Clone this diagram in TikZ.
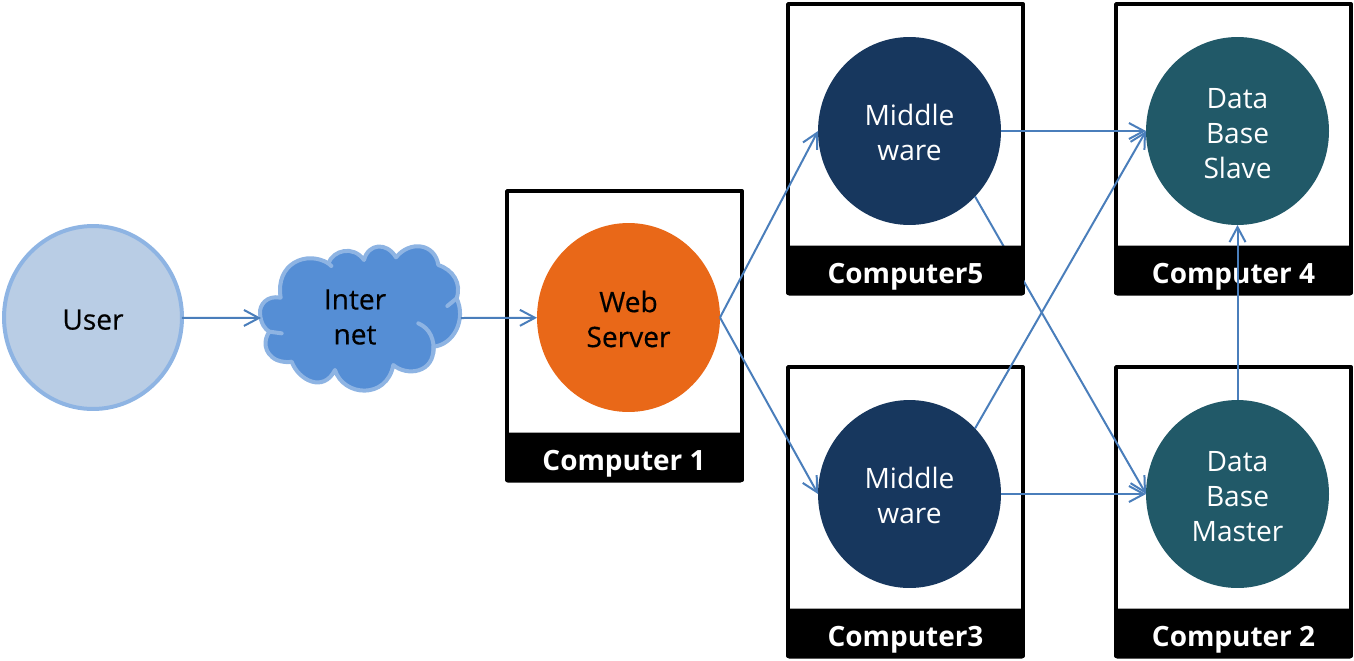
\documentclass[tikz,border=0pt]{standalone}
\usepackage{fontspec}
\setmainfont{Open Sans}
\newfontfamily\darkfont[FakeBold=0.4]{Open Sans}
\usetikzlibrary{shapes.geometric,arrows.meta}
\definecolor{linkblue}{HTML}{4A7EBB}
\definecolor{userfill}{HTML}{B9CDE5}
\definecolor{softedge}{HTML}{8EB4E3}
\definecolor{cloudfill}{HTML}{558ED5}
\definecolor{weborange}{HTML}{E96818}
\definecolor{midnavy}{HTML}{17375E}
\definecolor{dbteal}{HTML}{215968}
\newcommand\dropline{\rule{0pt}{13.9pt}}
\tikzset{
  frame/.style={draw=black,fill=white,line width=0.08cm,line join=round,minimum width=4.7cm,minimum height=5.78cm,inner sep=0,outer sep=0},
  disc/.style={ellipse,inner sep=0,outer sep=0,align=center,font=\fontsize{16}{19.9}\selectfont},
  userdisc/.style={disc,draw=softedge,fill=userfill,line width=0.08cm,minimum width=3.56cm,minimum height=3.66cm,font=\fontsize{16}{19.9}\selectfont\darkfont},
  webdisc/.style={disc,fill=weborange,minimum width=3.66cm,minimum height=3.78cm,font=\fontsize{16}{19.9}\selectfont\darkfont},
  middisc/.style={disc,fill=midnavy,text=white,minimum width=3.66cm,minimum height=3.76cm},
  dbdisc/.style={disc,fill=dbteal,text=white,minimum width=3.66cm,minimum height=3.76cm},
  bar/.style={fill=black,text=white,rounded corners=0.04cm,minimum width=4.74cm,minimum height=1cm,inner sep=0,outer sep=0,text height=0.62cm,text depth=0.1cm,font=\fontsize{15.9}{19.9}\selectfont\bfseries},
  link/.style={draw=linkblue,line width=0.04cm,-{Straight Barb[length=0.3cm,width=0.32cm]}},
  cloudarea/.style={inner sep=0,outer sep=0,minimum width=4cm,minimum height=2.8cm},
  cloudtext/.style={inner sep=0,align=center,font=\fontsize{16}{19.9}\selectfont\darkfont}
}
\begin{document}
\begin{tikzpicture}[x=0.02cm,y=-0.02cm]
\useasboundingbox (0,0) rectangle (1354,660);
% frames
\node[frame] (f1) at (624.5,335.5) {};
\node[frame] (f5) at (905.5,148.5) {};
\node[frame] (f4) at (1233.5,148.5) {};
\node[frame] (f3) at (905.5,511.5) {};
\node[frame] (f2) at (1233.5,511.5) {};
% discs
\node[userdisc] (user) at (93,317.5) {\dropline User};
\node[webdisc] (web) at (628.5,317.5) {\dropline Web\\Server};
\node[middisc] (mid5) at (909.5,131) {\dropline Middle\\ware};
\node[middisc] (mid3) at (909.5,494) {\dropline Middle\\ware};
\node[dbdisc] (db4) at (1237.5,131) {\dropline Data\\Base\\Slave};
\node[dbdisc] (db2) at (1237.5,494) {\dropline Data\\Base\\Master};
% cloud
\begin{scope}[shift={(240,230)},x=0.006667cm,y=-0.006667cm]
\draw[draw=softedge,fill=cloudfill,line width=0.08cm,line join=round]
  (122,203) .. controls (80,195) and (58,225) .. (60,250)
  .. controls (62,280) and (75,298) .. (88,305)
  .. controls (70,330) and (70,370) .. (110,390)
  .. controls (125,396) and (145,398) .. (155,395)
  .. controls (175,450) and (250,490) .. (285,420)
  .. controls (310,500) and (440,510) .. (460,405)
  .. controls (500,440) and (585,430) .. (580,350)
  .. controls (640,345) and (680,270) .. (650,205)
  .. controls (665,160) and (640,120) .. (595,105)
  .. controls (585,40) and (510,30) .. (468,82)
  .. controls (440,35) and (385,40) .. (372,90)
  .. controls (340,45) and (280,60) .. (265,100)
  .. controls (200,60) and (105,100) .. (122,203) -- cycle;
\draw[draw=softedge,line width=0.08cm,line cap=round]
  (88,305) -- (125,310)
  (535,280) .. controls (570,295) and (585,330) .. (580,370)
  (650,205) -- (622,228)
  (265,100) -- (274,108);
\end{scope}
\node[cloudarea] (cloud) at (361,318) {};
\node[cloudtext] (cloudlabel) at (355,317) {Inter\\net};
% connectors
\draw[link] (user) -- (cloud.west);
\draw[link] (cloud.east) -- (web);
\draw[link] (web.east) -- (mid5.west);
\draw[link] (web.east) -- (mid3.west);
\draw[link] (mid5.east) -- (db4.west);
\draw[link] (mid3.east) -- (db2.west);
\draw[link] (mid3.45) -- (db4.west);
\draw[link] (mid5.-45) -- (db2.west);
% bars over the connectors
\node[bar] (b1) at (624,457.5) {Computer 1};
\node[bar] (b5) at (905.5,270.5) {Computer5};
\node[bar] (b4) at (1233.5,270.5) {Computer 4};
\node[bar] (b3) at (905.5,633.5) {Computer3};
\node[bar] (b2) at (1233.5,633.5) {Computer 2};
% this connector runs over its bar
\draw[link] (db2.north) -- (db4.south);
\end{tikzpicture}
\end{document}
